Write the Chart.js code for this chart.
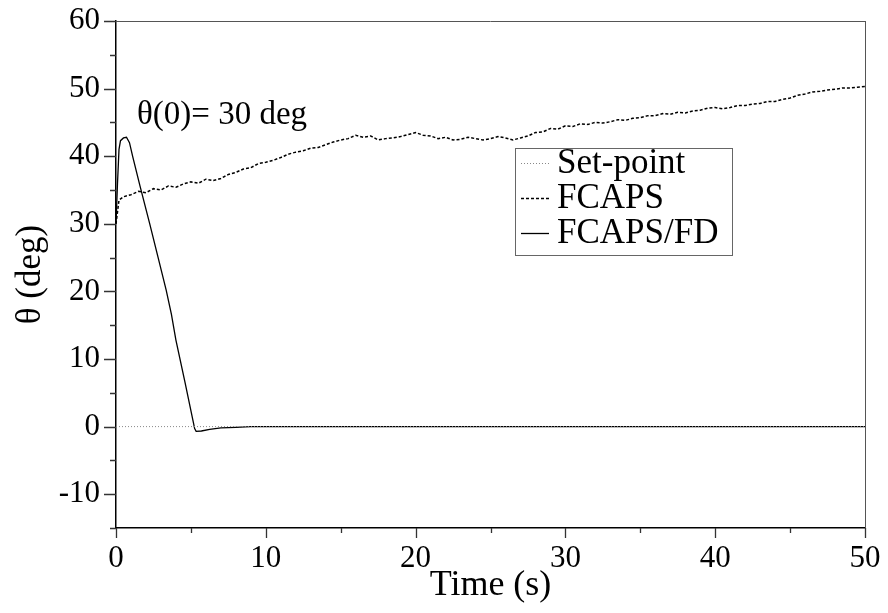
<!DOCTYPE html>
<html>
<head>
<meta charset="utf-8">
<script src="https://cdn.jsdelivr.net/npm/chart.js@4.4.1/dist/chart.umd.min.js"></script>
<style>
  html, body { margin: 0; padding: 0; background: #fff; }
  #wrap { width: 888px; height: 613px; }
</style>
</head>
<body>
<div id="wrap"><canvas id="myChart" width="888" height="613"></canvas></div>
<script>
// set-point
const setPointTime = [0, 50];
const setPointDeg = [0, 0];

// FCAPS (dashed)
const fcapsTime = [0, 0.2, 0.5, 1, 1.5, 2, 2.5, 3, 3.5, 4, 4.5, 5, 5.5, 6, 6.5, 7, 7.5, 8, 8.5, 9, 9.5,
  10, 10.5, 11, 11.5, 12, 12.5, 13, 13.5, 14, 14.5, 15, 15.5, 16, 16.5, 17, 17.5, 18, 18.5, 19, 19.5,
  20, 20.5, 21, 21.5, 22, 22.5, 23, 23.5, 24, 24.5, 25, 25.5, 26, 26.5, 27, 27.5, 28, 28.5, 29, 29.5,
  30, 30.5, 31, 31.5, 32, 32.5, 33, 33.5, 34, 34.5, 35, 35.5, 36, 36.5, 37, 37.5, 38, 38.5, 39, 39.5,
  40, 40.5, 41, 41.5, 42, 42.5, 43, 43.5, 44, 44.5, 45, 45.5, 46, 46.5, 47, 47.5, 48, 48.5, 49, 49.5, 50];
const fcapsDeg = [30, 33.5, 34.0, 34.3, 34.8, 34.6, 35.2, 35.0, 35.6, 35.4, 35.9, 36.2, 36.0, 36.6, 36.4, 36.7, 37.3, 37.6, 38.1, 38.3, 38.9,
  39.1, 39.4, 39.8, 40.3, 40.6, 40.8, 41.2, 41.3, 41.7, 42.1, 42.4, 42.6, 43.1, 42.8, 43.0, 42.4, 42.6, 42.7, 42.9, 43.2,
  43.5, 43.1, 43.0, 42.6, 42.8, 42.4, 42.5, 42.8, 42.6, 42.4, 42.6, 42.9, 42.7, 42.4, 42.7, 43.0, 43.5, 43.6, 44.1, 44.0,
  44.5, 44.4, 44.8, 44.7, 45.0, 44.9, 45.1, 45.4, 45.3, 45.6, 45.7, 46.0, 46.0, 46.3, 46.2, 46.5, 46.4, 46.7, 46.8, 47.1,
  47.2, 47.0, 47.2, 47.5, 47.5, 47.7, 47.8, 48.1, 48.1, 48.4, 48.6, 49.0, 49.2, 49.5, 49.6, 49.8, 49.9, 50.1, 50.1, 50.2, 50.3];

// FCAPS/FD (solid)
const fdTime = [0, 0.1, 0.2, 0.3, 0.5, 0.7, 0.9, 1.12, 1.6, 2.24, 2.8, 3.35, 3.7, 4.0, 4.6, 5.25, 5.35, 5.7, 6.25, 7, 8, 9, 50];
const fdDeg = [30, 36, 41, 42.3, 42.7, 42.8, 42, 39.9, 35.6, 30.1, 25.1, 20.2, 16.6, 12.8, 6.6, -0.3, -0.7, -0.65, -0.4, -0.2, -0.1, 0, 0];

const xTickLabels = [0, 10, 20, 30, 40, 50];
const yTickLabels = [-10, 0, 10, 20, 30, 40, 50, 60];

const serif = 'Liberation Serif';

function pts(xs, ys) {
  return xs.map((x, i) => ({ x: x, y: ys[i] }));
}

// minor/major ticks, frame, legend and the note
const decorations = {
  id: 'decorations',
  afterDraw(chart) {
    const ctx = chart.ctx;
    const a = chart.chartArea;
    const xs = chart.scales.x;
    const ys = chart.scales.y;
    ctx.save();
    // frame top and right
    ctx.strokeStyle = '#555';
    ctx.lineWidth = 1;
    ctx.beginPath();
    ctx.moveTo(a.left, a.top + 0.5);
    ctx.lineTo(a.right, a.top + 0.5);
    ctx.moveTo(a.right + 0.5, a.top);
    ctx.lineTo(a.right + 0.5, a.bottom);
    ctx.stroke();

    // ticks
    ctx.strokeStyle = '#333';
    ctx.lineWidth = 1.3;
    ctx.beginPath();
    for (let v = 0; v <= 50; v += 5) {
      const px = Math.round(xs.getPixelForValue(v)) + 0.5;
      const len = v % 10 === 0 ? 10 : 5;
      ctx.moveTo(px, a.bottom);
      ctx.lineTo(px, a.bottom + len);
    }
    for (let v = -15; v <= 60; v += 5) {
      const py = Math.round(ys.getPixelForValue(v)) + 0.5;
      const len = v % 10 === 0 ? 12 : 6;
      ctx.moveTo(a.left, py);
      ctx.lineTo(a.left - len, py);
    }
    ctx.stroke();

    // note
    ctx.fillStyle = '#000';
    ctx.font = '33px "' + serif + '"';
    ctx.textBaseline = 'alphabetic';
    ctx.textAlign = 'left';
    ctx.fillText('\u03b8(0)= 30 deg', 137, 124);

    // legend
    const bx = 515, by = 148, bw = 217, bh = 107;
    ctx.fillStyle = '#fff';
    ctx.fillRect(bx, by, bw, bh);
    ctx.strokeStyle = '#666';
    ctx.lineWidth = 1;
    ctx.strokeRect(bx + 0.5, by + 0.5, bw, bh);
    const rows = [163, 198, 233];
    ctx.font = '35px "' + serif + '"';
    chart.data.datasets.forEach((ds, i) => {
      const y = rows[i] + 0.5;
      ctx.strokeStyle = ds.borderColor;
      ctx.lineWidth = ds.borderWidth;
      ctx.setLineDash(ds.borderDash || []);
      ctx.beginPath();
      ctx.moveTo(521, y);
      ctx.lineTo(549, y);
      ctx.stroke();
      ctx.setLineDash([]);
      ctx.fillStyle = '#000';
      ctx.textBaseline = 'middle';
      ctx.fillText(ds.label, 557, rows[i] + 1);
    });
    ctx.restore();
  }
};

const config = {
  type: 'scatter',
  data: {
    datasets: [{
      label: 'Set-point',
      data: pts(setPointTime, setPointDeg),
      showLine: true,
      borderColor: '#888',
      borderWidth: 1,
      borderDash: [1, 2],
      pointRadius: 0
    }, {
      label: 'FCAPS',
      data: pts(fcapsTime, fcapsDeg),
      showLine: true,
      borderColor: '#000',
      borderWidth: 1.5,
      borderDash: [3, 2],
      pointRadius: 0
    }, {
      label: 'FCAPS/FD',
      data: pts(fdTime, fdDeg),
      showLine: true,
      borderColor: '#000',
      borderWidth: 1.3,
      pointRadius: 0
    }]
  },
  options: {
    responsive: false,
    animation: false,
    layout: { padding: { left: 0, right: 23, top: 21, bottom: 0 } },
    plugins: {
      legend: { display: false },
      tooltip: { enabled: false }
    },
    scales: {
      x: {
        type: 'linear',
        min: 0,
        max: 50,
        afterBuildTicks: (s) => { s.ticks = xTickLabels.map(v => ({ value: v })); },
        afterFit: (s) => { s.height = 85; s.paddingLeft = 0; s.paddingRight = 0; },
        grid: { drawOnChartArea: false, color: 'rgba(0,0,0,0)', tickLength: 10 },
        border: { color: '#000', width: 1.5 },
        ticks: { color: '#000', padding: 2, maxRotation: 0, font: { family: serif, size: 31 } },
        title: { display: true, text: 'Time (s)', color: '#000', padding: { top: 0, bottom: 6 }, font: { family: serif, size: 36 } }
      },
      y: {
        type: 'linear',
        min: -15,
        max: 60,
        afterBuildTicks: (s) => { s.ticks = yTickLabels.map(v => ({ value: v })); },
        afterFit: (s) => { s.width = 116; s.paddingTop = 0; s.paddingBottom = 0; },
        grid: { drawOnChartArea: false, color: 'rgba(0,0,0,0)', tickLength: 12 },
        border: { color: '#000', width: 1.5 },
        ticks: { color: '#000', padding: 4, font: { family: serif, size: 31 } },
        title: { display: true, text: '\u03b8 (deg)', color: '#000', padding: { top: 10, bottom: 0 }, font: { family: serif, size: 35 } }
      }
    }
  },
  plugins: [decorations]
};

const myChart = new Chart(document.getElementById('myChart'), config);
</script>
</body>
</html>
